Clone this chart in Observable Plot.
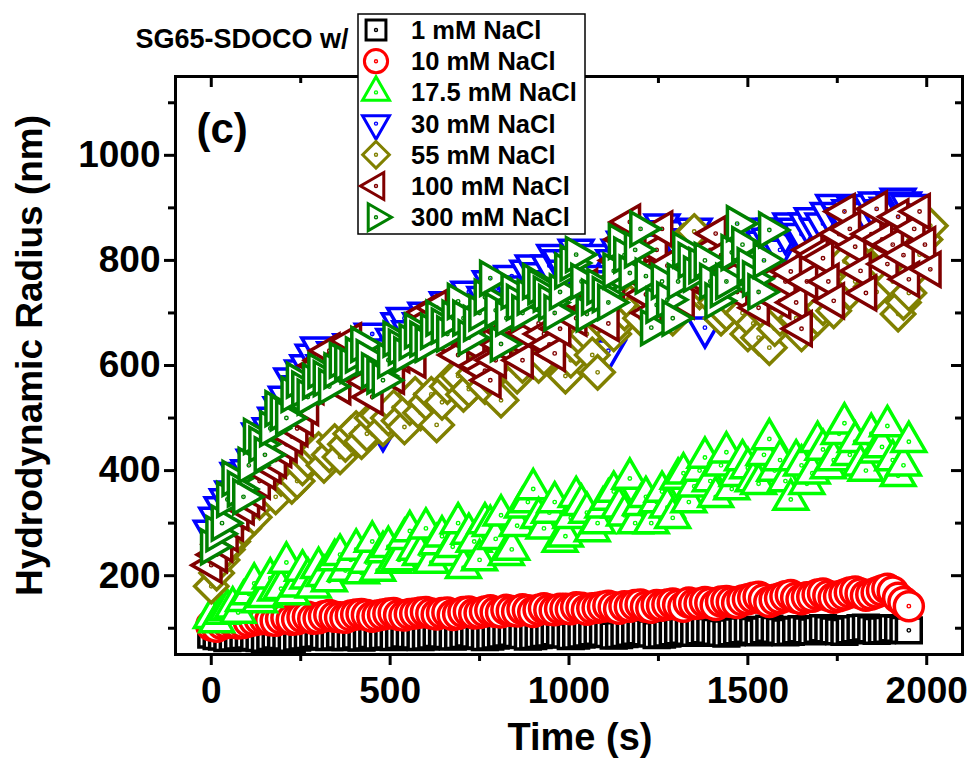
<!DOCTYPE html>
<html><head><meta charset="utf-8">
<script src="https://cdn.jsdelivr.net/npm/d3@7"></script>
<script src="https://cdn.jsdelivr.net/npm/@observablehq/plot@0.6"></script>
<style>body{margin:0;background:#fff;} #chart svg{display:block;}</style>
</head><body><div id="chart"></div>
<script>
// ---- data ----
const times = [0,30,60,90,120,150,180,210,240,270,300,330,360,390,420,450,480,510,540,570,600,630,660,690,720,750,780,810,840,870,900,930,960,990,1020,1050,1080,1110,1140,1170,1200,1230,1260,1290,1320,1350,1380,1410,1440,1470,1500,1530,1560,1590,1620,1650,1680,1710,1740,1770,1800,1830,1860,1890,1920,1950,1980,2010];
const halfTimes = [15,45,75,105,135,165,195,225,255,285,315,345,375,405,435,465,495,525,555,585,615,645,675,705,735,765,795,825,855,885,915,945,975,1005,1035,1065,1095,1125,1155,1185,1215,1245,1275,1305,1335,1365,1395,1425,1455,1485,1515,1545,1575,1605,1635,1665,1695,1725,1755,1785,1815,1845,1875,1905,1935,1965,1995];

const nacl1 = [88,84,82,85,83,80,86,84,82,85, 88,83,86,84,82,87,85,83,88,86, 84,89,87,85,90,86,84,88,91,87, 85,89,92,88,86,90,93,89,87,91, 94,90,88,92,95,91,96,93,90,94, 97,92,99,95,93,98,94,100,96,93, 98,101,95,97,99,96];
const nacl1Half = [85,81,84,86,81,83,85,80,84,87, 85,84,83,86,84,84,86,85,87,83, 86,88,84,87,88,83,86,90,89,84, 87,90,90,85,88,92,91,86,89,93, 92,87,90,94,93,94,95,91,92,96, 95,96,97,92,96,96,97,98,94,96, 100,98,96,100,97];
const nacl10 = [105,108,112,110,115,118,114,120,117,122, 119,125,121,124,127,122,126,129,124,128, 131,126,130,127,132,129,134,130,133,136, 131,138,134,137,140,135,139,143,137,141, 145,139,143,147,141,146,150,144,152,148, 155,160,150,157,163,155,160,166,158,164, 170,162,168,175,158,142];
const nacl10Half = [103,110,109,113,117,115,118,116,121,118, 123,122,120,126,125,124,128,125,127,130, 128,129,125,131,128,132,131,135,132,134, 135,135,137,136,139,138,141,140,142,144, 141,144,145,144,149,147,148,151,150,153, 158,155,154,161,158,159,164,162,161,168, 166,164,172,170,150];
const nacl17 = [120,128,140,152,185,160,172,225,180,195, 215,190,240,230,205,265,245,225,270,250, 290,260,240,300,280,230,295,315,250,330, 365,290,340,275,350,320,300,345,330,385, 335,300,360,310,395,370,425,350,435,390, 405,375,460,420,345,410,395,440,420,490, 455,400,435,485,390,455];
const nacl17Half = [112,135,130,165,150,195,175,165,210,178, 200,230,210,250,225,210,255,230,285,240, 225,275,255,215,265,300,270,240,295,340, 310,320,265,310,335,285,330,360,315,300, 350,340,330,385,340,400,380,410,365,420, 380,430,400,380,420,375,455,405,470,430, 410,470,445,420,410];
const nacl30 = [285,330,360,380,420,450,500,540,560,600, 634,610,580,640,610,660,475,650,690,640, 700,670,720,690,740,700,760,720,770,740, 790,760,810,780,820,790,770,628,820,850, 800,747,868,840,810,860,672,830,800,850, 830,860,841,820,870,850,880,870,905,880, 900,890,910,900,917,905];
const nacl30Half = [310,345,395,400,470,480,520,575,590,620, 600,625,620,600,640,630,620,680,665,680, 690,700,700,720,715,730,745,760,750,780, 775,790,800,800,805,810,760,800,835,820, 780,830,855,820,840,780,800,845,825,840, 850,835,860,850,860,870,860,890,890,895, 880,905,895,910,910];
const nacl55 = [180,230,265,290,311,371,350,395,380,420, 440,430,426,470,455,500,480,520,483,545, 530,487,560,580,555,600,575,534,620,600, 640,615,660,580,634,660,587,700,680,720, 690,740,710,690,836,855,760,720,700,745, 660,653,634,690,720,660,736,710,704,798, 760,780,740,820,698,738,811,866];
const nacl55Half = [205,250,280,330,340,365,385,370,405,435, 410,455,450,480,470,505,500,495,520,510, 545,530,575,545,585,560,590,610,580,625, 600,640,620,610,650,620,680,660,700,710, 730,700,750,780,800,740,735,690,720,700, 680,700,670,705,690,720,690,740,760,740, 800,750,790,760,720,780,840];
const nacl100 = [220,260,300,331,358,398,420,450,480,520, 600,628,560,647,600,540,620,580,640,610, 700,710,650,620,680,600,572,640,690,610, 700,660,623,720,690,750,730,680,800,873, 770,700,860,740,723,800,760,851,793,740, 798,710,760,723,779,670,820,804,723,893, 826,738,898,793,883,764,893,783];
const nacl100Half = [240,280,320,345,380,410,440,465,500,560, 610,590,620,610,570,590,600,620,625,660, 690,680,640,660,640,590,610,665,650,660, 680,640,670,700,720,710,700,760,840,820, 735,820,790,730,770,780,820,810,760,780, 750,740,740,760,720,760,810,760,850,860, 780,850,840,830,810,860,830];
const nacl300 = [255,300,385,350,465,430,518,500,572,540, 590,560,610,600,640,590,572,650,620,666, 640,690,660,722,653,700,766,641,741,700, 760,736,700,780,811,698,750,720,836,776, 860,672,760,690,820,774,800,723,760,870, 790,740,858];
const nacl300Half = [280,345,365,410,450,480,510,545,555,570, 575,590,605,620,615,580,610,635,645,650, 665,675,690,690,680,730,705,690,720,730, 750,720,740,795,760,730,735,780,810,820, 770,715,725,760,800,790,760,745,815,830, 765,800];

const labels = ["1 mM NaCl","10 mM NaCl","17.5 mM NaCl","30 mM NaCl","55 mM NaCl","100 mM NaCl","300 mM NaCl"];
const xMajor = [0,500,1000,1500,2000];
const xMinor = [250,750,1250,1750];
const yMajor = [200,400,600,800,1000];
const yMinor = [100,300,500,700,900,1100];

// ---- styles ----
const colors = ["#000000","#ff0000","#00ff00","#0000ff","#808000","#800000","#008000"];
const shapeNames = ["square","circle","up","down","diamond","left","right"];
const radii = [14,14.5,12.5,12.5,15,12.5,12.5];
const FONT = "'Liberation Sans', Arial, Helvetica, sans-serif";

const S3 = Math.sqrt(3);
function withDot(outline) {
  return {draw(c, s) { outline(c, s); c.moveTo(0.7, 0); c.arc(0, 0, 0.7, 0, 2 * Math.PI); }};
}
const shapes = {
  square: withDot((c, s) => { const w = Math.sqrt(s), h = w / 2; c.moveTo(-h,-h); c.lineTo(h,-h); c.lineTo(h,h); c.lineTo(-h,h); c.closePath(); }),
  circle: withDot((c, s) => { const r = Math.sqrt(s / Math.PI); c.moveTo(r, 0); c.arc(0, 0, r, 0, 2 * Math.PI); }),
  up: withDot((c, s) => { const y = -Math.sqrt(s / (S3 * 3)); c.moveTo(0, 2*y); c.lineTo(-S3*y, -y); c.lineTo(S3*y, -y); c.closePath(); }),
  down: withDot((c, s) => { const y = -Math.sqrt(s / (S3 * 3)); c.moveTo(0, -2*y); c.lineTo(-S3*y, y); c.lineTo(S3*y, y); c.closePath(); }),
  left: withDot((c, s) => { const y = -Math.sqrt(s / (S3 * 3)); c.moveTo(2*y, 0); c.lineTo(-y, -S3*y); c.lineTo(-y, S3*y); c.closePath(); }),
  right: withDot((c, s) => { const y = -Math.sqrt(s / (S3 * 3)); c.moveTo(-2*y, 0); c.lineTo(y, S3*y); c.lineTo(y, -S3*y); c.closePath(); }),
  diamond: withDot((c, s) => { const r = Math.sqrt(s) * 0.62625; c.moveTo(0,-r); c.lineTo(r,0); c.lineTo(0,r); c.lineTo(-r,0); c.closePath(); })
};

const mainValues = [nacl1, nacl10, nacl17, nacl30, nacl55, nacl100, nacl300];
const halfValues = [nacl1Half, nacl10Half, nacl17Half, nacl30Half, nacl55Half, nacl100Half, nacl300Half];
const tables = mainValues.map((vals, k) => {
  const rows = vals.map((v, i) => ({t: times[i], v, series: labels[k]}))
    .concat(halfValues[k].map((v, i) => ({t: halfTimes[i], v, series: labels[k]})));
  return rows.sort((a, b) => a.t - b.t);
});

const W = 974, H = 764, ML = 175, MR = 12, MT = 76, MB = 110;
const FW = W - ML - MR, FH = H - MT - MB;

const dataMarks = tables.map((rows, k) => Plot.dot(rows, {
  x: "t", y: "v", symbol: shapes[shapeNames[k]], r: radii[k],
  stroke: colors[k], fill: "white", strokeWidth: 3.5
}));

const chart = Plot.plot({
  width: W, height: H, marginLeft: ML, marginRight: MR, marginTop: MT, marginBottom: MB,
  x: {domain: [-100, 2100], axis: null},
  y: {domain: [50, 1150], axis: null},
  style: {fontFamily: FONT, background: "white", color: "black"},
  marks: [
    ...dataMarks,
    Plot.frame({stroke: "black", strokeWidth: 3}),
    // bottom ticks (outward)
    Plot.ruleX(xMajor, {x: d => d, insetTop: FH, insetBottom: -11, strokeWidth: 3}),
    Plot.ruleX(xMinor, {x: d => d, insetTop: FH, insetBottom: -7, strokeWidth: 3}),
    // top ticks (inward)
    Plot.ruleX(xMajor, {x: d => d, insetTop: 0, insetBottom: FH - 11, strokeWidth: 3}),
    Plot.ruleX(xMinor, {x: d => d, insetTop: 0, insetBottom: FH - 7, strokeWidth: 3}),
    // left ticks (outward)
    Plot.ruleY(yMajor, {y: d => d, insetLeft: -11, insetRight: FW, strokeWidth: 3}),
    Plot.ruleY(yMinor, {y: d => d, insetLeft: -7, insetRight: FW, strokeWidth: 3}),
    // right ticks (inward)
    Plot.ruleY(yMajor, {y: d => d, insetLeft: FW - 11, insetRight: 0, strokeWidth: 3}),
    Plot.ruleY(yMinor, {y: d => d, insetLeft: FW - 7, insetRight: 0, strokeWidth: 3}),
    // tick labels
    Plot.text(xMajor, {x: d => d, text: d => String(d), frameAnchor: "bottom", lineAnchor: "top", dy: 22, fontSize: 37, fontWeight: "bold", fill: "black"}),
    Plot.text(yMajor, {y: d => d, text: d => String(d), frameAnchor: "left", textAnchor: "end", dx: -15, fontSize: 37, fontWeight: "bold", fill: "black"}),
    // axis titles
    Plot.text(["Time (s)"], {frameAnchor: "bottom", lineAnchor: "top", textAnchor: "middle", dx: 11, dy: 69, fontSize: 38, fontWeight: "bold", fill: "black"}),
    Plot.text(["Hydrodynamic Radius (nm)"], {frameAnchor: "left", textAnchor: "middle", rotate: -90, dx: -145, dy: -10, fontSize: 37, fontWeight: "bold", fill: "black"}),
    Plot.text(["(c)"], {frameAnchor: "top-left", textAnchor: "start", lineAnchor: "top", dx: 21, dy: 37, fontSize: 42, fontWeight: "bold", fill: "black"}),
    Plot.text(["SG65-SDOCO w/"], {frameAnchor: "top-left", textAnchor: "start", dx: -40, dy: -48, fontSize: 27, fontWeight: "bold", fill: "black"})
  ]
});

// legend box drawn on top (it covers part of the frame, as in the reference)
const svg = d3.select(chart);
const lg = svg.append("g").attr("font-family", FONT).attr("font-weight", "bold").attr("text-anchor", "start");
lg.append("rect").attr("x", 358).attr("y", 14).attr("width", 227).attr("height", 220)
  .attr("fill", "white").attr("stroke", "black").attr("stroke-width", 1.5);
labels.forEach((lab, k) => {
  const cy = 30 + k * 31.2;
  const rr = radii[k] * 0.8;
  lg.append("path").attr("transform", `translate(376,${cy})`)
    .attr("d", d3.symbol(shapes[shapeNames[k]], Math.PI * rr * rr)())
    .attr("fill", "white").attr("stroke", colors[k]).attr("stroke-width", 3);
  lg.append("text").attr("x", 411).attr("y", cy).attr("dy", "0.35em")
    .attr("text-anchor", "start").attr("font-size", 25.5).attr("fill", "black").text(lab);
});

document.getElementById("chart").append(chart);
</script></body></html>
